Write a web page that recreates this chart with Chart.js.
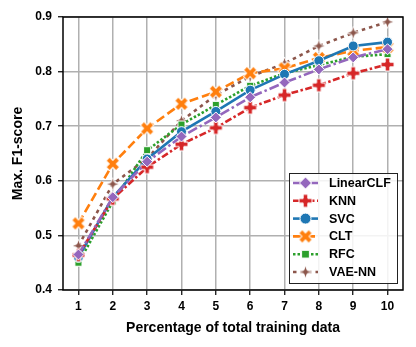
<!DOCTYPE html>
<html>
<head>
<meta charset="utf-8">
<script src="https://cdn.jsdelivr.net/npm/chart.js@4.4.1/dist/chart.umd.min.js"></script>
<style>
  html, body { margin: 0; padding: 0; background: #fff; }
  #wrap { width: 416px; height: 347px; }
</style>
</head>
<body>
<div id="wrap"><canvas id="myChart" width="416" height="347"></canvas></div>
<script>
// data
var xTicks = [1, 2, 3, 4, 5, 6, 7, 8, 9, 10];
var linearClf = [0.465, 0.57, 0.635, 0.681, 0.716, 0.753, 0.780, 0.804, 0.826, 0.841];
var knn       = [0.464, 0.567, 0.625, 0.667, 0.697, 0.734, 0.757, 0.775, 0.797, 0.813];
var svc       = [0.460, 0.570, 0.640, 0.690, 0.727, 0.766, 0.795, 0.820, 0.847, 0.854];
var clt       = [0.522, 0.631, 0.696, 0.741, 0.763, 0.797, 0.806, 0.825, 0.838, 0.845];
var rfc       = [0.450, 0.562, 0.656, 0.703, 0.739, 0.774, 0.797, 0.812, 0.827, 0.832];
var vaeNN     = [0.481, 0.594, 0.641, 0.710, 0.757, 0.791, 0.815, 0.847, 0.871, 0.891];
var yTicks = [0.4, 0.5, 0.6, 0.7, 0.8, 0.9];

var FONT = "'Liberation Sans', Arial, sans-serif";

// marker images: filled plus, filled x, 4-point star
function marker(kind, color, r) {
    var s = Math.ceil(r * 2 + 4);
    var c = document.createElement('canvas');
    c.width = s; c.height = s;
    var g = c.getContext('2d');
    g.translate(s / 2, s / 2);
    g.beginPath();
    if (kind === 'plus' || kind === 'x') {
        var a = r, w = r * 0.36;
        if (kind === 'x') g.rotate(Math.PI / 4);
        g.moveTo(-w, -a); g.lineTo(w, -a); g.lineTo(w, -w); g.lineTo(a, -w);
        g.lineTo(a, w); g.lineTo(w, w); g.lineTo(w, a); g.lineTo(-w, a);
        g.lineTo(-w, w); g.lineTo(-a, w); g.lineTo(-a, -w); g.lineTo(-w, -w);
    } else {
        var o = r, i = r * 0.38;
        for (var k = 0; k < 8; k++) {
            var ang = k * Math.PI / 4 - Math.PI / 2;
            var rr = (k % 2 === 0) ? o : i;
            if (k === 0) g.moveTo(rr * Math.cos(ang), rr * Math.sin(ang));
            else g.lineTo(rr * Math.cos(ang), rr * Math.sin(ang));
        }
    }
    g.closePath();
    g.lineWidth = 1;
    g.strokeStyle = '#fff';
    g.fillStyle = color;
    g.fill();
    g.stroke();
    return c;
}

var series = [
    {label: 'LinearCLF', data: linearClf, color: '#9467bd', dash: [10, 3, 2.5, 3], style: 'rectRot', r: 5.5},
    {label: 'KNN', data: knn, color: '#d62728', dash: [7, 2.5, 2.5, 2.5], style: marker('plus', '#d62728', 6.5), r: 6},
    {label: 'SVC', data: svc, color: '#1f77b4', dash: [], style: 'circle', r: 5},
    {label: 'CLT', data: clt, color: '#ff7f0e', dash: [9, 4], style: marker('x', '#ff7f0e', 7), r: 6},
    {label: 'RFC', data: rfc, color: '#2ca02c', dash: [2.5, 2], style: 'rect', r: 5},
    {label: 'VAE-NN', data: vaeNN, color: '#8c564b', dash: [3.5, 4], style: marker('star', '#8c564b', 6.5), r: 6}
];

var datasets = series.map(function (s) {
    return {
        label: s.label,
        data: s.data.map(function (v, i) { return {x: xTicks[i], y: v}; }),
        borderColor: s.color,
        backgroundColor: s.color,
        borderWidth: 2.6,
        borderDash: s.dash,
        pointStyle: s.style,
        pointRadius: s.r,
        pointBorderColor: '#fff',
        pointBorderWidth: 1,
        pointBackgroundColor: s.color,
        tension: 0
    };
});

// frame + legend drawn on top
var framePlugin = {
    id: 'frame',
    afterDraw: function (chart) {
        var ctx = chart.ctx, a = chart.chartArea;
        ctx.save();
        ctx.strokeStyle = '#000';
        ctx.lineWidth = 1.5;
        ctx.strokeRect(a.left, a.top, a.right - a.left, a.bottom - a.top);

        // legend box
        var bx = 289, by = 173, bw = 108, bh = 110;
        ctx.fillStyle = 'rgba(255,255,255,0.85)';
        ctx.fillRect(bx, by, bw, bh);
        ctx.strokeStyle = '#222';
        ctx.lineWidth = 1;
        ctx.strokeRect(bx + 0.5, by + 0.5, bw, bh);
        ctx.font = 'bold 12.5px ' + FONT;
        ctx.textBaseline = 'middle';
        series.forEach(function (s, i) {
            var y = 183 + i * 17.8;
            ctx.strokeStyle = s.color;
            ctx.lineWidth = 2.6;
            ctx.setLineDash(s.dash);
            ctx.beginPath();
            ctx.moveTo(293, y);
            ctx.lineTo(318, y);
            ctx.stroke();
            ctx.setLineDash([]);
            ctx.fillStyle = s.color;
            ctx.strokeStyle = '#fff';
            ctx.lineWidth = 1;
            Chart.helpers.drawPoint(ctx, {
                pointStyle: s.style, radius: s.r + 0.5, rotation: 0,
                borderWidth: 1
            }, 305.5, y);
            ctx.fillStyle = '#000';
            ctx.fillText(s.label, 329, y + 0.5);
        });
        ctx.restore();
    }
};

var ctx = document.getElementById('myChart').getContext('2d');
new Chart(ctx, {
    type: 'line',
    data: {datasets: datasets},
    plugins: [framePlugin],
    options: {
        responsive: false,
        animation: false,
        layout: {padding: {top: 17, right: 13, left: 0, bottom: 0}},
        plugins: {legend: {display: false}, tooltip: {enabled: false}},
        scales: {
            x: {
                type: 'linear',
                min: 0.55,
                max: 10.45,
                afterFit: function (s) { s.height = 57; },
                afterBuildTicks: function (s) {
                    s.ticks = xTicks.map(function (v) { return {value: v}; });
                },
                grid: {color: '#b0b0b0', lineWidth: 1.5, tickColor: '#000', tickLength: 5, tickWidth: 1.2},
                border: {display: false},
                ticks: {
                    color: '#000', padding: 4,
                    font: {family: FONT, size: 12, weight: 'bold'},
                    maxRotation: 0
                },
                title: {
                    display: true, text: 'Percentage of total training data', color: '#000',
                    font: {family: FONT, size: 14, weight: 'bold'},
                    padding: {top: 4, bottom: 10}
                }
            },
            y: {
                min: 0.4,
                max: 0.9,
                afterFit: function (s) { s.width = 63; },
                afterBuildTicks: function (s) {
                    s.ticks = yTicks.map(function (v) { return {value: v}; });
                },
                grid: {color: '#b0b0b0', lineWidth: 1.5, tickColor: '#000', tickLength: 5, tickWidth: 1.2},
                border: {display: false},
                ticks: {
                    color: '#000', padding: 6,
                    font: {family: FONT, size: 12, weight: 'bold'},
                    callback: function (v) { return v.toFixed(1); }
                },
                title: {
                    display: true, text: 'Max. F1-score', color: '#000',
                    font: {family: FONT, size: 14, weight: 'bold'},
                    padding: {top: 10, bottom: 4}
                }
            }
        }
    }
});
</script>
</body>
</html>
